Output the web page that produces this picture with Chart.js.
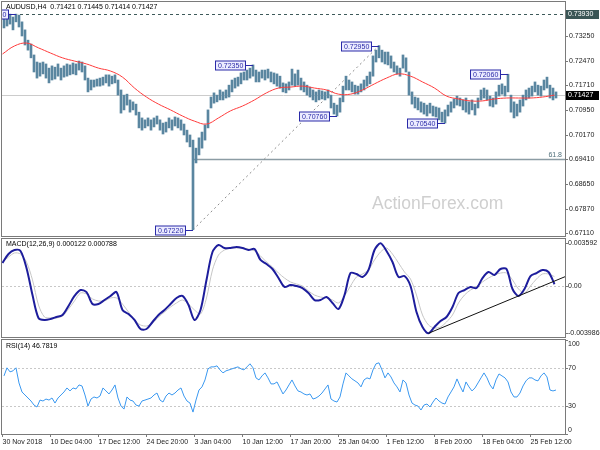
<!DOCTYPE html>
<html>
<head>
<meta charset="utf-8">
<script src="https://cdn.jsdelivr.net/npm/chart.js@4.4.1/dist/chart.umd.min.js"></script>
<style>
html, body { margin: 0; padding: 0; background: #fff; }
#wrap { position: relative; width: 600px; height: 450px; overflow: hidden; }
canvas { position: absolute; left: 0; }
</style>
</head>
<body>
<div id="wrap">
  <canvas id="price" width="600" height="238" style="top:0px"></canvas>
  <canvas id="macd" width="600" height="100" style="top:238px"></canvas>
  <canvas id="rsi" width="600" height="112" style="top:338px"></canvas>
</div>
<script>
// H4 bars, one entry per two bars (high / low)
const highs = [
  0.7387,0.7390,0.7393,0.7384,0.7393,0.7390,0.7369,0.7344,0.7312,0.7300,
  0.7266,0.7244,0.7241,0.7244,0.7238,0.7225,0.7232,0.7228,0.7238,0.7225,
  0.7232,0.7238,0.7235,0.7241,0.7238,0.7247,0.7244,0.7232,0.7194,0.7188,
  0.7188,0.7191,0.7194,0.7197,0.7204,0.7204,0.7200,0.7204,0.7188,0.7157,
  0.7141,0.7144,0.7126,0.7120,0.7113,0.7088,0.7070,0.7064,0.7070,0.7064,
  0.7070,0.7076,0.7064,0.7054,0.7057,0.7070,0.7064,0.7073,0.7070,0.7064,
  0.7051,0.7032,0.7017,0.7001,0.6976,0.7008,0.7026,0.7048,0.7095,0.7135,
  0.7148,0.7141,0.7157,0.7151,0.7157,0.7172,0.7188,0.7194,0.7197,0.7210,
  0.7213,0.7219,0.7225,0.7235,0.7219,0.7213,0.7219,0.7219,0.7222,0.7213,
  0.7210,0.7207,0.7200,0.7179,0.7176,0.7182,0.7222,0.7207,0.7219,0.7194,
  0.7182,0.7172,0.7166,0.7157,0.7151,0.7157,0.7154,0.7151,0.7157,0.7141,
  0.7116,0.7110,0.7132,0.7169,0.7200,0.7188,0.7182,0.7172,0.7169,0.7176,
  0.7188,0.7200,0.7213,0.7263,0.7281,0.7295,0.7281,0.7275,0.7275,0.7263,
  0.7244,0.7232,0.7225,0.7266,0.7257,0.7213,0.7151,0.7135,0.7132,0.7120,
  0.7116,0.7110,0.7116,0.7107,0.7104,0.7101,0.7088,0.7095,0.7110,0.7120,
  0.7129,0.7138,0.7132,0.7126,0.7132,0.7120,0.7126,0.7113,0.7132,0.7157,
  0.7163,0.7157,0.7138,0.7132,0.7151,0.7172,0.7176,0.7169,0.7206,0.7141,
  0.7120,0.7113,0.7126,0.7141,0.7157,0.7163,0.7169,0.7182,0.7172,0.7169,
  0.7188,0.7197,0.7172,0.7163,0.7151
];
const lows = [
  0.7350,0.7356,0.7362,0.7344,0.7369,0.7353,0.7325,0.7297,0.7281,0.7257,
  0.7213,0.7194,0.7200,0.7207,0.7194,0.7179,0.7188,0.7191,0.7200,0.7188,
  0.7197,0.7200,0.7204,0.7207,0.7204,0.7219,0.7213,0.7188,0.7151,0.7157,
  0.7166,0.7169,0.7169,0.7172,0.7179,0.7169,0.7176,0.7179,0.7141,0.7085,
  0.7095,0.7110,0.7088,0.7095,0.7079,0.7039,0.7032,0.7039,0.7045,0.7032,
  0.7042,0.7051,0.7032,0.7020,0.7026,0.7039,0.7032,0.7045,0.7039,0.7032,
  0.7017,0.6995,0.6980,0.6722,0.6930,0.6955,0.6976,0.7001,0.7039,0.7101,
  0.7116,0.7120,0.7126,0.7126,0.7132,0.7135,0.7151,0.7163,0.7169,0.7176,
  0.7188,0.7188,0.7194,0.7200,0.7182,0.7182,0.7194,0.7188,0.7194,0.7182,
  0.7176,0.7169,0.7163,0.7151,0.7148,0.7157,0.7172,0.7169,0.7172,0.7157,
  0.7151,0.7141,0.7135,0.7126,0.7120,0.7126,0.7129,0.7126,0.7132,0.7101,
  0.7082,0.7076,0.7088,0.7120,0.7157,0.7157,0.7151,0.7144,0.7144,0.7151,
  0.7157,0.7169,0.7176,0.7200,0.7244,0.7257,0.7244,0.7238,0.7235,0.7225,
  0.7213,0.7207,0.7200,0.7225,0.7213,0.7141,0.7113,0.7101,0.7095,0.7088,
  0.7082,0.7076,0.7085,0.7076,0.7073,0.7064,0.7057,0.7054,0.7076,0.7088,
  0.7101,0.7110,0.7107,0.7095,0.7088,0.7082,0.7095,0.7079,0.7101,0.7126,
  0.7132,0.7126,0.7107,0.7104,0.7113,0.7138,0.7144,0.7138,0.7151,0.7088,
  0.7070,0.7076,0.7088,0.7107,0.7126,0.7132,0.7138,0.7151,0.7141,0.7138,
  0.7157,0.7163,0.7132,0.7126,0.7132
];
// moving average, one value every 8 bars
const maValues = [
  0.7269,0.7294,0.7303,0.7288,0.7272,0.7257,0.7247,0.7238,0.7225,0.7216,
  0.7197,0.7163,0.7135,0.7113,0.7095,0.7076,0.7060,0.7051,0.7070,0.7092,
  0.7107,0.7126,0.7148,0.7163,0.7166,0.7169,0.7163,0.7157,0.7144,0.7144,
  0.7157,0.7176,0.7194,0.7207,0.7200,0.7182,0.7163,0.7138,0.7129,0.7123,
  0.7123,0.7129,0.7132,0.7132,0.7132,0.7135,0.7141
];
// MACD(12,26,9), one value every 4 bars
const macdMain = [
  0.00194,0.00269,0.00303,0.00295,0.00152,-0.00076,-0.00269,-0.00286,-0.00278,-0.00261,
  -0.00244,-0.00168,-0.00084,-0.00034,-0.00051,-0.00152,-0.00152,-0.00118,-0.00084,-0.00051,
  -0.00202,-0.00236,-0.00286,-0.00362,-0.00362,-0.00303,-0.00244,-0.00202,-0.00152,-0.00101,
  -0.00084,-0.00160,-0.00286,-0.00202,0.00051,0.00286,0.00345,0.00320,0.00320,0.00328,
  0.00320,0.00303,0.00312,0.00219,0.00185,0.00143,0.00067,-0.00008,0.00008,0.00000,
  -0.00017,-0.00059,-0.00118,-0.00118,-0.00093,-0.00143,-0.00194,-0.00076,0.00109,0.00101,
  0.00076,0.00135,0.00303,0.00359,0.00295,0.00202,0.00076,0.00084,0.00000,-0.00219,
  -0.00345,-0.00398,-0.00345,-0.00295,-0.00261,-0.00177,-0.00059,-0.00034,-0.00008,-0.00017,
  0.00067,0.00118,0.00093,0.00143,0.00143,-0.00025,-0.00084,-0.00025,0.00084,0.00109,
  0.00135,0.00118,0.00015
];
const macdSignal = [
  0.00202,0.00244,0.00278,0.00269,0.00202,0.00051,-0.00160,-0.00261,-0.00269,-0.00269,
  -0.00253,-0.00194,-0.00126,-0.00059,-0.00067,-0.00109,-0.00126,-0.00126,-0.00101,-0.00101,
  -0.00152,-0.00219,-0.00286,-0.00328,-0.00337,-0.00312,-0.00261,-0.00219,-0.00177,-0.00143,
  -0.00118,-0.00152,-0.00202,-0.00236,-0.00101,0.00135,0.00261,0.00303,0.00320,0.00320,
  0.00320,0.00312,0.00295,0.00253,0.00202,0.00160,0.00109,0.00067,0.00034,0.00017,
  0.00000,-0.00042,-0.00076,-0.00093,-0.00101,-0.00118,-0.00143,-0.00084,0.00000,0.00076,
  0.00101,0.00135,0.00219,0.00286,0.00320,0.00269,0.00194,0.00118,0.00059,-0.00076,
  -0.00244,-0.00328,-0.00354,-0.00345,-0.00303,-0.00244,-0.00143,-0.00076,-0.00034,-0.00008,
  0.00034,0.00067,0.00093,0.00109,0.00109,0.00051,-0.00025,-0.00059,0.00000,0.00059,
  0.00101,0.00101,0.00079
];
// RSI(14), one value every 2 bars
const rsiValues = [
  61.8,70.4,66.1,67.2,70.4,54.3,44.7,41.5,38.3,35.1,
  30.8,28.7,36.1,35.1,37.2,36.1,38.3,32.9,38.3,41.5,
  44.7,49.0,45.8,49.0,47.9,52.2,51.1,41.5,29.7,37.2,
  39.4,38.3,40.4,49.0,45.8,42.6,46.8,52.2,38.3,29.7,
  26.5,39.4,36.1,35.1,30.8,29.7,35.1,36.1,37.2,38.3,
  41.5,43.6,36.1,34.0,40.4,43.6,41.5,43.6,46.8,49.0,
  40.4,35.1,32.9,23.3,36.1,46.8,50.1,57.5,69.3,71.4,
  71.4,72.5,68.2,65.0,67.2,68.2,69.3,70.4,71.4,69.3,
  68.2,71.4,74.7,70.4,59.7,57.5,61.8,65.0,59.7,53.3,
  53.3,55.4,49.0,42.6,46.8,52.2,57.5,51.1,45.8,44.7,
  42.6,41.5,42.6,37.2,38.3,40.4,43.6,47.9,52.2,37.2,
  35.1,34.0,39.4,53.3,65.0,61.8,58.6,56.5,54.3,50.1,
  57.5,59.7,58.6,68.2,74.7,75.7,68.2,59.7,65.0,60.7,
  54.3,50.1,44.7,57.5,54.3,41.5,32.9,30.8,29.7,25.5,
  30.8,31.9,28.7,34.0,38.3,35.1,32.9,31.9,39.4,44.7,
  50.1,58.6,51.1,44.7,55.4,50.1,45.8,49.0,54.3,59.7,
  65.0,59.7,52.2,47.9,57.5,63.9,61.8,59.7,55.4,44.7,
  39.4,39.4,43.6,51.1,56.5,59.7,59.7,57.5,56.5,61.8,
  65.0,60.7,46.8,45.8,46.8
];

const priceTicks = [0.6711, 0.6787, 0.6865, 0.6941, 0.7017, 0.7095, 0.7171, 0.7247, 0.7325];
const macdTicks = [0.003592, 0, -0.003986];
const macdTickLabels = ['0.003592', '0.00', '-0.003986'];
const rsiTicks = [100, 70, 30, 0];
const rsiLevels = [70, 30];
const dateBars = [0, 32, 64, 96, 128, 160, 192, 224, 256, 288, 320, 352];
const dateLabels = ['30 Nov 2018', '10 Dec 04:00', '17 Dec 12:00', '24 Dec 20:00', '3 Jan 04:00', '10 Jan 12:00',
  '17 Jan 20:00', '25 Jan 04:00', '1 Feb 12:00', '8 Feb 20:00', '18 Feb 04:00', '25 Feb 12:00'];

// swing points marked on the chart (bar index, price)
const pivotBars = [9, 127, 167, 223, 251, 295, 337];
const pivotValues = [0.7393, 0.6722, 0.7235, 0.7076, 0.7295, 0.7054, 0.7206];
const topHigh = 0.7393;
const lastPrice = 0.71427;
const fibLevel = 0.6941;
const fibLabel = '61.8';
const fibFromBar = 127;
const swingLow = { bar: 127, value: 0.6722 };
const swingHigh = { bar: 251, value: 0.7295 };
const title = 'AUDUSD,H4  0.71421 0.71445 0.71414 0.71427';
const macdTitle = 'MACD(12,26,9) 0.000122 0.000788';
const rsiTitle = 'RSI(14) 46.7819';

const X_MIN = -0.33;
const X_MAX = 375;
const FONT = "7px 'Liberation Sans', Arial, sans-serif";
const FRAME = '#7a7a7a';

Chart.defaults.animation = false;
Chart.defaults.font.family = "'Liberation Sans', Arial, sans-serif";

function xScale() {
  return { type: 'linear', min: X_MIN, max: X_MAX, display: false, offset: false };
}
function rightAxis(min, max) {
  return {
    position: 'right', min: min, max: max,
    grid: { display: false }, border: { display: false }, ticks: { display: false },
    afterFit: s => { s.width = 35; }
  };
}
function hline(ctx, x1, x2, y, color, dash, width) {
  ctx.save();
  ctx.strokeStyle = color;
  ctx.lineWidth = width || 1;
  ctx.setLineDash(dash || []);
  const yy = Math.round(y) + 0.5;
  ctx.beginPath(); ctx.moveTo(x1, yy); ctx.lineTo(x2, yy); ctx.stroke();
  ctx.restore();
}
function label(ctx, s, x, y, color, align) {
  ctx.font = FONT;
  ctx.fillStyle = color;
  ctx.textAlign = align || 'left';
  ctx.textBaseline = 'middle';
  ctx.fillText(s, x, y);
}
function frame(ctx, ca) {
  ctx.save();
  ctx.strokeStyle = FRAME;
  ctx.lineWidth = 1;
  ctx.strokeRect(ca.left - 0.5, ca.top - 0.5, ca.width + 1, ca.height + 1);
  ctx.restore();
}
function axisTick(ctx, ca, y) {
  const yy = Math.round(y) + 0.5;
  ctx.strokeStyle = FRAME;
  ctx.lineWidth = 1;
  ctx.beginPath(); ctx.moveTo(ca.right, yy); ctx.lineTo(ca.right + 3, yy); ctx.stroke();
}

const priceDecor = {
  id: 'priceDecor',
  beforeDatasetsDraw(chart) {
    const { ctx, chartArea: ca, scales: { x, y } } = chart;
    ctx.save();
    ctx.beginPath(); ctx.rect(ca.left, ca.top, ca.width, ca.height); ctx.clip();
    ctx.font = "17.5px 'Liberation Sans', Arial, sans-serif";
    ctx.fillStyle = '#cfcfcf';
    ctx.textAlign = 'left';
    ctx.textBaseline = 'alphabetic';
    ctx.fillText('ActionForex.com', ca.left + 370, ca.top + 206.5);
    hline(ctx, ca.left, ca.right, y.getPixelForValue(lastPrice), '#cccccc');
    hline(ctx, x.getPixelForValue(pivotBars[0]) - 8, ca.right, y.getPixelForValue(topHigh), '#3e5a5a', [3, 3]);
    hline(ctx, x.getPixelForValue(fibFromBar), ca.right, y.getPixelForValue(fibLevel), '#8c9ca4', [], 1.5);
    ctx.strokeStyle = '#8a8a8a';
    ctx.lineWidth = 1;
    ctx.setLineDash([2, 3]);
    ctx.beginPath();
    ctx.moveTo(x.getPixelForValue(swingLow.bar), y.getPixelForValue(swingLow.value));
    ctx.lineTo(x.getPixelForValue(swingHigh.bar), y.getPixelForValue(swingHigh.value));
    ctx.stroke();
    ctx.restore();
  },
  afterDatasetsDraw(chart) {
    const { ctx, chartArea: ca, scales: { x, y } } = chart;
    ctx.save();
    ctx.beginPath(); ctx.rect(ca.left, ca.top, ca.width, ca.height); ctx.clip();
    ctx.font = FONT;
    pivotValues.forEach((v, i) => {
      const bx = x.getPixelForValue(pivotBars[i]);
      const by = Math.round(y.getPixelForValue(v)) + 0.5;
      const txt = v.toFixed(5);
      const w = Math.round(ctx.measureText(txt).width) + 5;
      const right = Math.round(bx) - 8;
      ctx.strokeStyle = '#2a2aa8';
      ctx.lineWidth = 1;
      ctx.beginPath(); ctx.moveTo(right, by); ctx.lineTo(bx, by); ctx.stroke();
      ctx.fillStyle = '#ececff';
      ctx.fillRect(right - w + 0.5, by - 4.5, w, 9);
      ctx.strokeRect(right - w + 0.5, by - 4.5, w, 9);
      label(ctx, txt, right - w + 3, by + 0.5, '#2a2aa8');
    });
    label(ctx, fibLabel, ca.right - 3, y.getPixelForValue(fibLevel) - 4, '#4f6f7a', 'right');
    ctx.restore();

    frame(ctx, ca);
    label(ctx, title, ca.left + 4, 7.5, '#000');

    ctx.save();
    priceTicks.forEach(v => {
      const py = y.getPixelForValue(v);
      axisTick(ctx, ca, py);
      label(ctx, v.toFixed(5), ca.right + 4, py, '#222');
    });
    [[topHigh, '#3a5555'], [lastPrice, '#000000']].forEach(([v, bg]) => {
      const py = Math.round(y.getPixelForValue(v));
      ctx.fillStyle = bg;
      ctx.fillRect(ca.right + 1, py - 4, 33, 9);
      label(ctx, v.toFixed(5), ca.right + 3, py + 0.5, '#ffffff');
    });
    ctx.restore();
  }
};

new Chart(document.getElementById('price'), {
  type: 'bar',
  data: {
    datasets: [
      {
        type: 'line',
        data: maValues.map((v, j) => ({ x: 8 * j, y: v })),
        borderColor: '#ff3b3b', borderWidth: 1, pointRadius: 0, tension: 0.4, order: 0
      },
      {
        data: highs.map((h, k) => ({ x: 1 + 2 * k, y: [lows[k], h] })),
        backgroundColor: '#5a86a0', barThickness: 2, order: 1
      }
    ]
  },
  options: {
    responsive: false,
    layout: { padding: { left: 2, right: 0, top: 2, bottom: 2 } },
    plugins: { legend: { display: false }, tooltip: { enabled: false } },
    scales: { x: xScale(), y: rightAxis(0.670257, 0.743078) }
  },
  plugins: [priceDecor]
});

const macdDecor = {
  id: 'macdDecor',
  beforeDatasetsDraw(chart) {
    const { ctx, chartArea: ca, scales: { y } } = chart;
    hline(ctx, ca.left, ca.right, y.getPixelForValue(0), '#c8c8c8', [2, 2]);
  },
  afterDatasetsDraw(chart) {
    const { ctx, chartArea: ca, scales: { x, y } } = chart;
    // trendline through the two MACD lows
    const a = 71, b = 86;
    const slope = (macdMain[b] - macdMain[a]) / (4 * (b - a));
    ctx.save();
    ctx.beginPath(); ctx.rect(ca.left, ca.top, ca.width, ca.height); ctx.clip();
    ctx.strokeStyle = '#111';
    ctx.lineWidth = 1;
    ctx.beginPath();
    ctx.moveTo(x.getPixelForValue(4 * a), y.getPixelForValue(macdMain[a]));
    ctx.lineTo(x.getPixelForValue(X_MAX), y.getPixelForValue(macdMain[a] + slope * (X_MAX - 4 * a)));
    ctx.stroke();
    ctx.restore();
    frame(ctx, ca);
    ctx.save();
    label(ctx, macdTitle, ca.left + 4, ca.top + 5.5, '#000');
    macdTicks.forEach((v, i) => {
      const py = y.getPixelForValue(v);
      axisTick(ctx, ca, py);
      label(ctx, macdTickLabels[i], ca.right + 3, py, '#222');
    });
    ctx.restore();
  }
};

new Chart(document.getElementById('macd'), {
  type: 'line',
  data: {
    datasets: [
      {
        data: macdMain.map((v, j) => ({ x: 4 * j, y: v })),
        borderColor: '#1d1d9c', borderWidth: 2, pointRadius: 0, tension: 0.3, order: 0
      },
      {
        data: macdSignal.map((v, j) => ({ x: 4 * j, y: v })),
        borderColor: '#c6c6c6', borderWidth: 1, pointRadius: 0, tension: 0.3, order: 1
      }
    ]
  },
  options: {
    responsive: false,
    layout: { padding: { left: 2, right: 0, top: 1, bottom: 1 } },
    plugins: { legend: { display: false }, tooltip: { enabled: false } },
    scales: { x: xScale(), y: rightAxis(-0.0042942, 0.0039574) }
  },
  plugins: [macdDecor]
});

const rsiDecor = {
  id: 'rsiDecor',
  beforeDatasetsDraw(chart) {
    const { ctx, chartArea: ca, scales: { y } } = chart;
    rsiLevels.forEach(v => hline(ctx, ca.left, ca.right, y.getPixelForValue(v), '#c8c8c8', [2, 2]));
  },
  afterDatasetsDraw(chart) {
    const { ctx, chartArea: ca, scales: { x, y } } = chart;
    frame(ctx, ca);
    ctx.save();
    label(ctx, rsiTitle, ca.left + 4, ca.top + 6, '#000');
    rsiTicks.forEach(v => {
      const py = y.getPixelForValue(v);
      axisTick(ctx, ca, py);
      const ly = Math.max(ca.top + 4, Math.min(ca.bottom - 4, py));
      label(ctx, String(v), ca.right + 3, ly, '#222');
    });
    dateBars.forEach((b, i) => {
      const px = Math.round(x.getPixelForValue(b)) + 0.5;
      ctx.strokeStyle = FRAME;
      ctx.lineWidth = 1;
      ctx.beginPath(); ctx.moveTo(px, ca.bottom); ctx.lineTo(px, ca.bottom + 3); ctx.stroke();
      label(ctx, dateLabels[i], px, ca.bottom + 8, '#222');
    });
    ctx.restore();
  }
};

new Chart(document.getElementById('rsi'), {
  type: 'line',
  data: {
    datasets: [{
      data: rsiValues.map((v, k) => ({ x: 1 + 2 * k, y: v })),
      borderColor: '#3a98f0', borderWidth: 1, pointRadius: 0, tension: 0
    }]
  },
  options: {
    responsive: false,
    layout: { padding: { left: 2, right: 0, top: 2, bottom: 16 } },
    plugins: { legend: { display: false }, tooltip: { enabled: false } },
    scales: { x: xScale(), y: rightAxis(0, 100) }
  },
  plugins: [rsiDecor]
});
</script>
</body>
</html>
